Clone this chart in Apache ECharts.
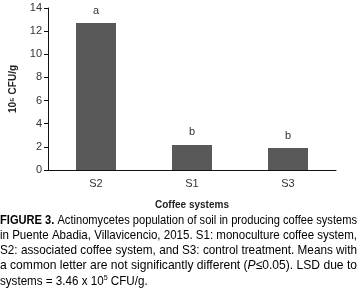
<!DOCTYPE html>
<html>
<head>
<meta charset="utf-8">
<script src="https://cdn.jsdelivr.net/npm/echarts@6/dist/echarts.min.js"></script>
<style>
  html, body { margin: 0; padding: 0; background: #fff; }
  #chart { width: 360px; height: 292px; }
</style>
</head>
<body>
<div id="chart"></div>
<script>
const categories = ['S2', 'S1', 'S3'];
const values = [12.7, 2.17, 1.9];
const letters = ['a', 'b', 'b'];

const font = '"Liberation Sans", Arial, sans-serif';
const textColor = '#333';
const captionColor = '#222';

// caption lines: [style, text] fragments
const captionLines = [
  [['b', 'FIGURE 3.'], ['n', ' Actinomycetes population of soil in producing coffee systems']],
  [['n', 'in Puente Abadia, Villavicencio, 2015. S1: monoculture coffee system,']],
  [['n', 'S2: associated coffee system, and S3: control treatment. Means with']],
  [['n', 'a common letter are not significantly different ('], ['i', 'P'], ['n', '≤0.05). LSD due to']],
  [['n', 'systems = 3.46 x 10'], ['s', '5'], ['n', ' CFU/g.']],
];

const fs = 13;
const captionRich = {
  b: { fontFamily: font, fontWeight: 'bold', fontSize: fs, color: captionColor },
  n: { fontFamily: font, fontSize: fs, color: captionColor },
  i: { fontFamily: font, fontSize: fs, fontStyle: 'italic', color: captionColor },
  s: { fontFamily: font, fontSize: 8, color: captionColor, padding: [0, 0, 6, 0] },
};
const cssFont = {
  b: 'bold ' + fs + 'px ' + font,
  n: fs + 'px ' + font,
  i: 'italic ' + fs + 'px ' + font,
  s: '8px ' + font,
};

const ctx = document.createElement('canvas').getContext('2d');
function lineWidth(frags) {
  let w = 0;
  frags.forEach(([st, t]) => { ctx.font = cssFont[st]; w += ctx.measureText(t).width; });
  return w;
}
const fullWidth = 357;
const scales = captionLines.slice(0, -1).map((frags) => fullWidth / lineWidth(frags));
const avgScale = scales.reduce((a, b) => a + b, 0) / scales.length;

const chart = echarts.init(document.getElementById('chart'), null, { renderer: 'canvas' });

const captionGraphics = captionLines.map((frags, k) => ({
  type: 'text',
  x: 0,
  y: 214 + k * 15,
  scaleX: k < scales.length ? scales[k] : avgScale,
  style: {
    text: frags.map(([st, t]) => '{' + st + '|' + t + '}').join(''),
    rich: captionRich,
    verticalAlign: 'top',
  },
}));

const option = {
  backgroundColor: '#fff',
  animation: false,
  grid: { left: 47, right: 24, top: 8, bottom: 122 },
  xAxis: {
    type: 'category',
    data: categories,
    name: 'Coffee systems',
    nameLocation: 'middle',
    nameGap: 30,
    nameTextStyle: { fontFamily: font, fontWeight: 'bold', fontSize: 10, color: captionColor },
    axisLine: { lineStyle: { color: '#111', width: 1 } },
    axisTick: { show: false },
    axisLabel: { fontFamily: font, fontSize: 11, color: textColor, margin: 8 },
  },
  yAxis: {
    type: 'value',
    min: 0,
    max: 14,
    interval: 2,
    name: '10⁵ CFU/g',
    nameLocation: 'middle',
    nameGap: 30,
    nameRotate: 90,
    nameTextStyle: { fontFamily: font, fontWeight: 'bold', fontSize: 10, color: captionColor },
    axisLine: { show: true, lineStyle: { color: '#111', width: 1 } },
    axisTick: { show: true, length: 4, lineStyle: { color: '#111' } },
    axisLabel: { fontFamily: font, fontSize: 11, color: textColor, margin: 6 },
    splitLine: { show: false },
  },
  series: [{
    type: 'bar',
    data: values,
    barWidth: 40,
    itemStyle: { color: '#595959' },
    label: {
      show: true,
      position: 'top',
      distance: 7,
      formatter: (p) => letters[p.dataIndex],
      fontFamily: font,
      fontSize: 11,
      color: textColor,
    },
  }],
  graphic: captionGraphics,
};

chart.setOption(option);
</script>
</body>
</html>
